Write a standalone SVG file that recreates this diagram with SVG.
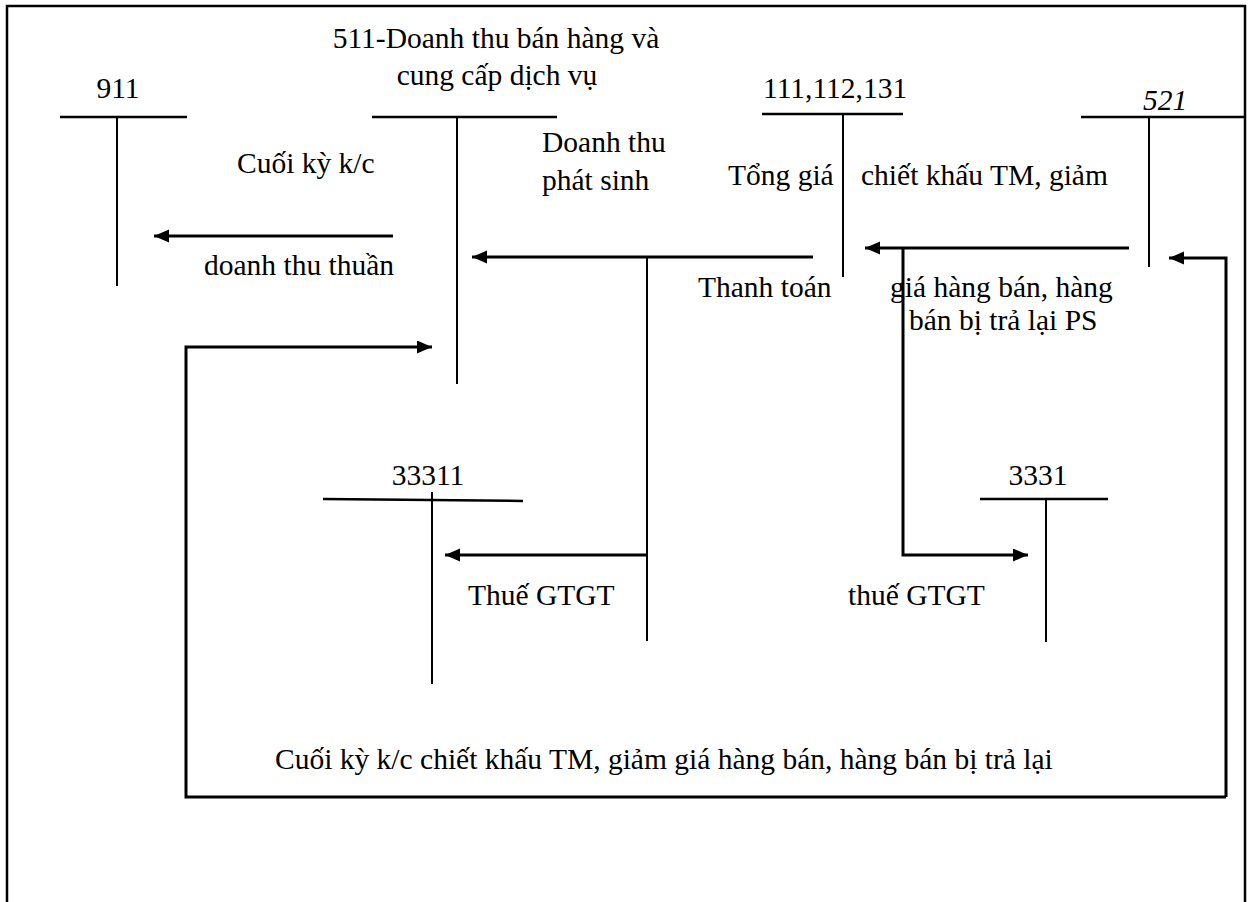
<svg xmlns="http://www.w3.org/2000/svg" width="1248" height="902" viewBox="0 0 1248 902">
  <style>
    text { font-family: "Liberation Serif", "Times New Roman", "DejaVu Serif", serif; font-size: 29.5px; fill: #000; }
    .mid { text-anchor: middle; }
    .ital { font-style: italic; }
    .frame { fill: none; stroke: #000; stroke-width: 2.5; }
    .bar { fill: none; stroke: #000; stroke-width: 2.5; }
    .stem { fill: none; stroke: #000; stroke-width: 2; }
    .flow { fill: none; stroke: #000; stroke-width: 3; }
  </style>
  <defs>
    <marker id="arrow" markerUnits="userSpaceOnUse" markerWidth="16" markerHeight="14" refX="15" refY="6.5" orient="auto">
      <path d="M0,0 L15,6.5 L0,13 z" fill="#000"/>
    </marker>
  </defs>

  <rect width="1248" height="902" fill="#fff"/>

  <!-- page frame, open at the bottom -->
  <path class="frame" d="M7,902 V6 H1245 V902"/>

  <!-- T-account 911 -->
  <g id="acc-911">
    <text class="mid" x="118" y="98">911</text>
    <line class="bar" x1="60" y1="117" x2="187" y2="117"/>
    <line class="stem" x1="117" y1="117" x2="117" y2="286"/>
  </g>

  <!-- T-account 511 -->
  <g id="acc-511">
    <text class="mid" x="496" y="48">511-Doanh thu bán hàng và</text>
    <text class="mid" x="497" y="85">cung cấp dịch vụ</text>
    <line class="bar" x1="372" y1="117" x2="557" y2="117"/>
    <line class="stem" x1="457" y1="117" x2="457" y2="384"/>
  </g>

  <!-- T-account 111,112,131 -->
  <g id="acc-111">
    <text x="763" y="98">111,112,131</text>
    <line class="bar" x1="762" y1="114" x2="903" y2="114"/>
    <line class="stem" x1="843" y1="114" x2="843" y2="277"/>
  </g>

  <!-- T-account 521 -->
  <g id="acc-521">
    <text class="mid ital" x="1165" y="110">521</text>
    <line class="bar" x1="1081" y1="117" x2="1245" y2="117"/>
    <line class="stem" x1="1149" y1="117" x2="1149" y2="267"/>
  </g>

  <!-- T-account 33311 -->
  <g id="acc-33311">
    <text class="mid" x="428" y="485">33311</text>
    <line class="bar" x1="323" y1="499" x2="523" y2="501"/>
    <line class="stem" x1="432" y1="492" x2="432" y2="684"/>
  </g>

  <!-- T-account 3331 -->
  <g id="acc-3331">
    <text class="mid" x="1038" y="485">3331</text>
    <line class="bar" x1="980" y1="499" x2="1108" y2="499"/>
    <line class="stem" x1="1046" y1="499" x2="1046" y2="642"/>
  </g>

  <!-- postings between accounts -->
  <g id="connectors">
    <path class="flow" d="M393,236 H154" marker-end="url(#arrow)"/>
    <path class="flow" d="M813,257 H472" marker-end="url(#arrow)"/>
    <path class="stem" d="M647,257 V641"/>
    <path class="flow" d="M647,555 H445" marker-end="url(#arrow)"/>
    <path class="flow" d="M1129,248 H865" marker-end="url(#arrow)"/>
    <path class="flow" d="M903,248 V555 H1028" marker-end="url(#arrow)"/>
    <path class="flow" d="M1226,797 V258 H1169" marker-end="url(#arrow)"/>
    <path class="flow" d="M1226,797 H186 V347 H432" marker-end="url(#arrow)"/>
  </g>

  <!-- posting labels -->
  <g id="labels">
    <text x="237" y="173">Cuối kỳ k/c</text>
    <text x="204" y="275">doanh thu thuần</text>
    <text x="542" y="152">Doanh thu</text>
    <text x="542" y="190">phát sinh</text>
    <text x="728" y="185">Tổng giá</text>
    <text x="698" y="297">Thanh toán</text>
    <text x="861" y="185">chiết khấu TM, giảm</text>
    <text x="890" y="297">giá hàng bán, hàng</text>
    <text x="909" y="330">bán bị trả lại PS</text>
    <text x="468" y="605">Thuế GTGT</text>
    <text x="848" y="605">thuế GTGT</text>
    <text x="275" y="769">Cuối kỳ k/c chiết khấu TM, giảm giá hàng bán, hàng bán bị trả lại</text>
  </g>
</svg>
